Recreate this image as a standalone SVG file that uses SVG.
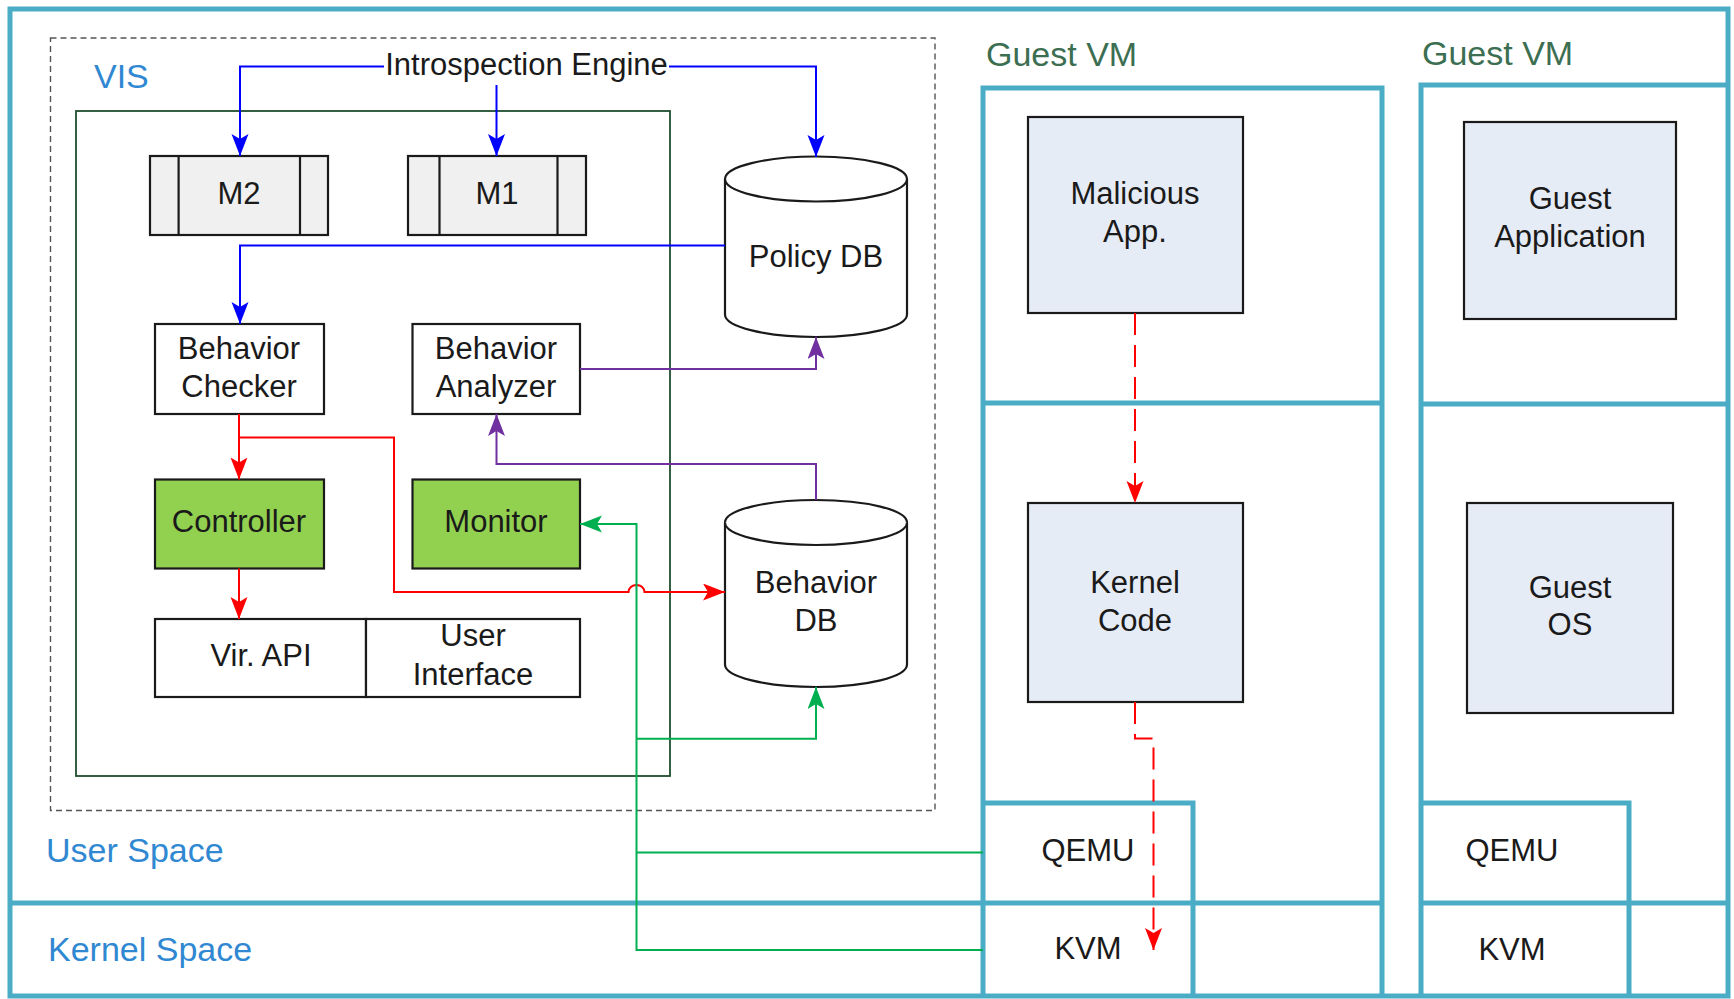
<svg xmlns="http://www.w3.org/2000/svg" width="1734" height="999" viewBox="0 0 1734 999">
  <defs>
    <style>
      .frame{fill:none;stroke:#4BACC6;stroke-width:5}
      .t{font-family:"Liberation Sans",Arial,sans-serif;font-size:31px;fill:#1a1a1a;text-anchor:middle}
      .region{font-family:"Liberation Sans",Arial,sans-serif;font-size:34px;fill:#2F88D1}
      .vmlabel{font-family:"Liberation Sans",Arial,sans-serif;font-size:34px;fill:#3C6E52}
      .box{stroke:#1a1a1a;stroke-width:2.2}
      .mod{fill:#F0F0F0}
      .plain{fill:#FFFFFF}
      .green{fill:#92D050}
      .guest{fill:#E6ECF6}
      .db{fill:#FFFFFF;stroke:#1a1a1a;stroke-width:2.2}
      .c{fill:none;stroke-width:2}
      .blue{stroke:#0000FF}
      .red{stroke:#FF0000}
      .grn{stroke:#00B050}
      .pur{stroke:#7030A0}
      .dash{stroke-dasharray:22 10}
    </style>
    <marker id="aBlue" markerUnits="userSpaceOnUse" markerWidth="24" markerHeight="18" refX="22" refY="8.5" orient="auto">
      <path d="M0,0 L22,8.5 L0,17 L5,8.5 Z" fill="#0000FF"/>
    </marker>
    <marker id="aRed" markerUnits="userSpaceOnUse" markerWidth="24" markerHeight="18" refX="22" refY="8.5" orient="auto">
      <path d="M0,0 L22,8.5 L0,17 L5,8.5 Z" fill="#FF0000"/>
    </marker>
    <marker id="aGreen" markerUnits="userSpaceOnUse" markerWidth="24" markerHeight="18" refX="22" refY="8.5" orient="auto">
      <path d="M0,0 L22,8.5 L0,17 L5,8.5 Z" fill="#00B050"/>
    </marker>
    <marker id="aPurple" markerUnits="userSpaceOnUse" markerWidth="24" markerHeight="18" refX="22" refY="8.5" orient="auto">
      <path d="M0,0 L22,8.5 L0,17 L5,8.5 Z" fill="#7030A0"/>
    </marker>
  </defs>

  <rect width="1734" height="999" fill="#FFFFFF"/>

  <!-- host frame and user/kernel split -->
  <g id="host">
    <rect class="frame" x="10" y="9" width="1718" height="987"/>
    <path class="frame" d="M10,903 H1382"/>
    <text class="region" x="46" y="862">User Space</text>
    <text class="region" x="48" y="961">Kernel Space</text>
  </g>

  <!-- first guest VM column -->
  <g id="vm1">
    <path class="frame" d="M983,996 V88 H1382 V996 M983,403 H1382 M983,803 H1193 V996"/>
    <text class="vmlabel" x="986" y="66">Guest VM</text>
    <text class="t" x="1088" y="861">QEMU</text>
    <text class="t" x="1088" y="959">KVM</text>
  </g>

  <!-- second guest VM column -->
  <g id="vm2">
    <path class="frame" d="M1421,996 V85 H1728 M1421,404 H1728 M1421,803 H1629 V996 M1421,903 H1728"/>
    <text class="vmlabel" x="1422" y="65">Guest VM</text>
    <text class="t" x="1512" y="861">QEMU</text>
    <text class="t" x="1512" y="960">KVM</text>
  </g>

  <!-- VIS container -->
  <g id="vis">
    <rect x="50.5" y="38" width="884.5" height="772.5" fill="none" stroke="#555555" stroke-width="1.4" stroke-dasharray="6 4"/>
    <rect x="76" y="111" width="594" height="665" fill="none" stroke="#1F4E2F" stroke-width="1.8"/>
    <text class="region" x="94" y="88">VIS</text>
  </g>

  <g id="introspection-engine">
    <text class="t" x="526.5" y="75">Introspection Engine</text>
  </g>

  <g id="m2">
    <rect class="box mod" x="150" y="156" width="178" height="79"/>
    <path class="box" d="M178.6,156 V235 M300,156 V235"/>
    <text class="t" x="239" y="204">M2</text>
  </g>

  <g id="m1">
    <rect class="box mod" x="408" y="156" width="178" height="79"/>
    <path class="box" d="M439.5,156 V235 M557.5,156 V235"/>
    <text class="t" x="497" y="204">M1</text>
  </g>

  <g id="policy-db">
    <path class="db" d="M725,179 V314.5 A91,22.5 0 0 0 907,314.5 V179 A91,22.5 0 0 0 725,179 Z"/>
    <path class="db" d="M725,179 A91,22.5 0 0 0 907,179" fill="none"/>
    <text class="t" x="816" y="267">Policy DB</text>
  </g>

  <g id="behavior-checker">
    <rect class="box plain" x="155" y="324" width="169" height="90"/>
    <text class="t" x="239" y="359">Behavior</text>
    <text class="t" x="239" y="397">Checker</text>
  </g>

  <g id="behavior-analyzer">
    <rect class="box plain" x="412.5" y="324" width="167.5" height="90"/>
    <text class="t" x="496" y="359">Behavior</text>
    <text class="t" x="496" y="397">Analyzer</text>
  </g>

  <g id="controller">
    <rect class="box green" x="155" y="479.5" width="169" height="89"/>
    <text class="t" x="239" y="532">Controller</text>
  </g>

  <g id="monitor">
    <rect class="box green" x="412.5" y="479.5" width="167.5" height="89"/>
    <text class="t" x="496" y="532">Monitor</text>
  </g>

  <g id="vir-api">
    <rect class="box plain" x="155" y="619" width="211" height="78"/>
    <text class="t" x="261" y="666">Vir. API</text>
  </g>

  <g id="user-interface">
    <rect class="box plain" x="366" y="619" width="214" height="78"/>
    <text class="t" x="473" y="646">User</text>
    <text class="t" x="473" y="685">Interface</text>
  </g>

  <g id="behavior-db">
    <path class="db" d="M725,522.5 V664.5 A91,22.5 0 0 0 907,664.5 V522.5 A91,22.5 0 0 0 725,522.5 Z"/>
    <path class="db" d="M725,522.5 A91,22.5 0 0 0 907,522.5" fill="none"/>
    <text class="t" x="816" y="593">Behavior</text>
    <text class="t" x="816" y="631">DB</text>
  </g>

  <g id="malicious-app">
    <rect class="box guest" x="1028" y="117" width="215" height="196"/>
    <text class="t" x="1135" y="204">Malicious</text>
    <text class="t" x="1135" y="242">App.</text>
  </g>

  <g id="guest-application">
    <rect class="box guest" x="1464" y="122" width="212" height="197"/>
    <text class="t" x="1570" y="209">Guest</text>
    <text class="t" x="1570" y="247">Application</text>
  </g>

  <g id="kernel-code">
    <rect class="box guest" x="1028" y="503" width="215" height="199"/>
    <text class="t" x="1135" y="593">Kernel</text>
    <text class="t" x="1135" y="631">Code</text>
  </g>

  <g id="guest-os">
    <rect class="box guest" x="1467" y="503" width="206" height="210"/>
    <text class="t" x="1570" y="598">Guest</text>
    <text class="t" x="1570" y="635">OS</text>
  </g>

  <!-- connectors -->
  <g id="connectors">
    <path class="c blue" d="M384,66.5 H240 V156" marker-end="url(#aBlue)"/>
    <path class="c blue" d="M669,66.5 H816 V157" marker-end="url(#aBlue)"/>
    <path class="c blue" d="M496.5,85 V156" marker-end="url(#aBlue)"/>
    <path class="c blue" d="M725,245.5 H240 V324" marker-end="url(#aBlue)"/>

    <path class="c pur" d="M580,369 H816 V337" marker-end="url(#aPurple)"/>
    <path class="c pur" d="M816,500 V464 H496.5 V414" marker-end="url(#aPurple)"/>

    <path class="c red" d="M239,414 V479.5" marker-end="url(#aRed)"/>
    <path class="c red" d="M239,437.5 H394 V592 H628.5 A8,7 0 0 1 644.5,592 H725" marker-end="url(#aRed)"/>
    <path class="c red" d="M239,568.5 V619" marker-end="url(#aRed)"/>

    <path class="c grn" d="M983,950 H636.5 V524 H580" marker-end="url(#aGreen)"/>
    <path class="c grn" d="M983,852.5 H636.5"/>
    <path class="c grn" d="M636.5,738.8 H816 V687" marker-end="url(#aGreen)"/>

    <path class="c red dash" d="M1135,313 V503" marker-end="url(#aRed)"/>
    <path class="c red dash" d="M1135,702 V738.5 H1153.5 V950" marker-end="url(#aRed)"/>
  </g>
</svg>
